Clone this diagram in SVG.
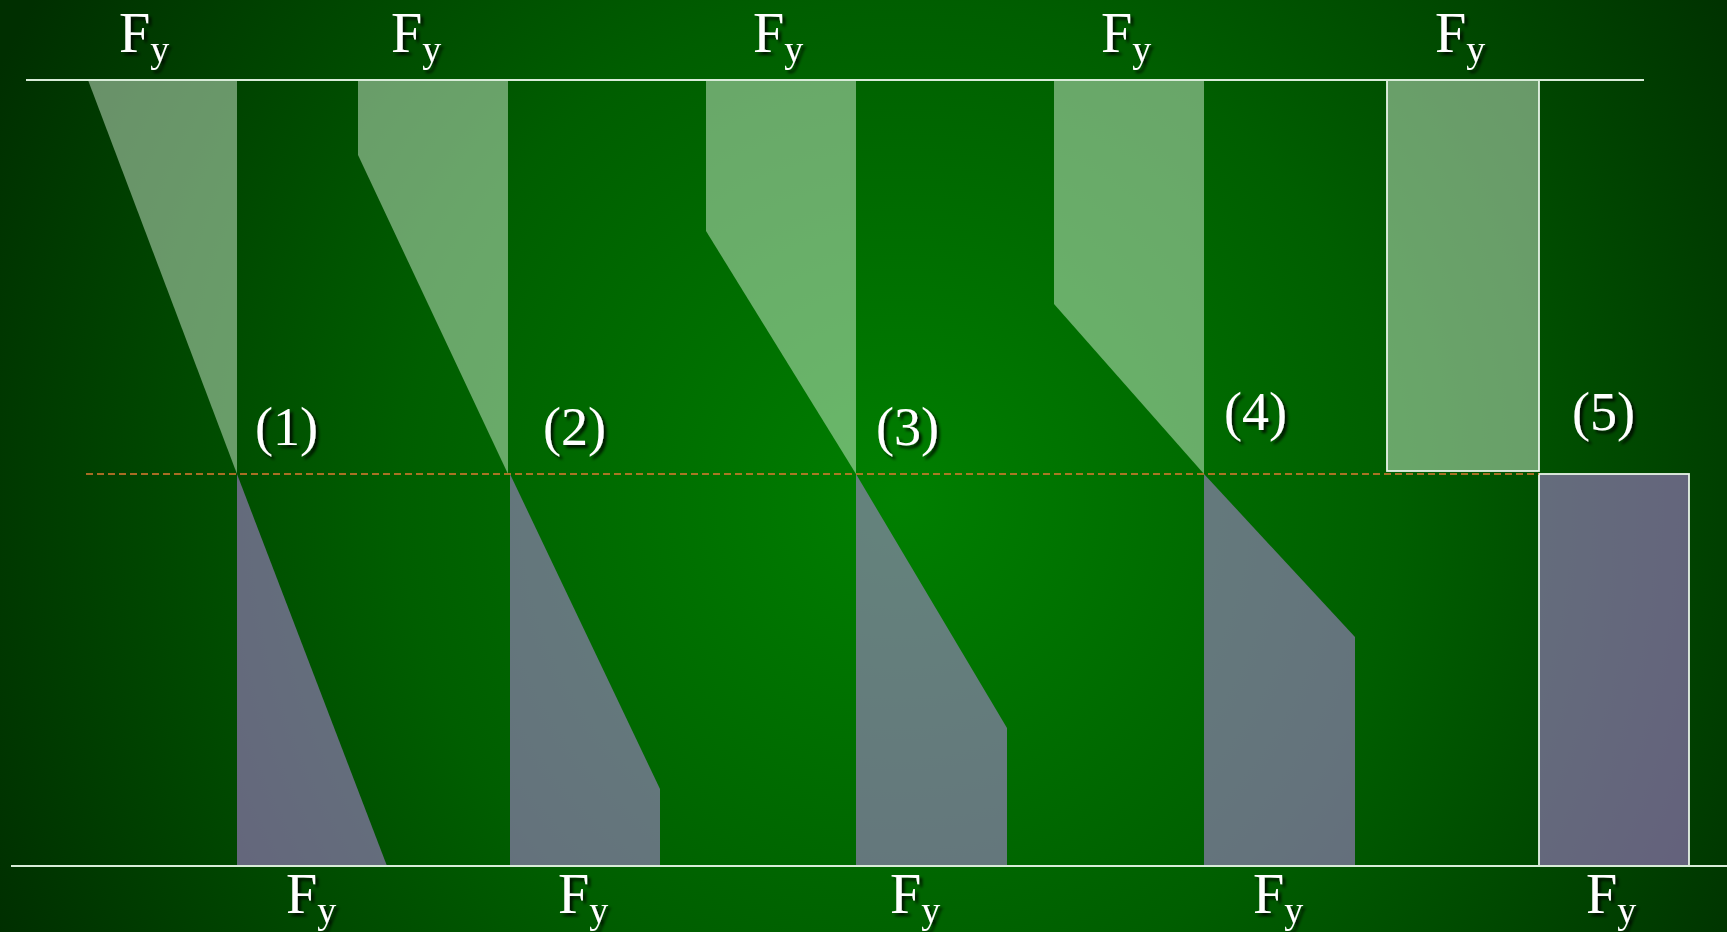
<svg xmlns="http://www.w3.org/2000/svg" width="1727" height="932" viewBox="0 0 1727 932">
<defs>
<radialGradient id="bg" gradientUnits="userSpaceOnUse" cx="900" cy="500" r="1000">
<stop offset="0" stop-color="#007f00"/>
<stop offset="0.5" stop-color="#005e00"/>
<stop offset="1" stop-color="#002f00"/>
</radialGradient>
<filter id="sh" x="-20%" y="-20%" width="140%" height="140%">
<feDropShadow dx="3" dy="3" stdDeviation="1.5" flood-color="#000" flood-opacity="0.8"/>
</filter>
</defs>
<style>
.up{fill:#e8ffe8;fill-opacity:0.45}
.dn{fill:#c888f8;fill-opacity:0.5}
.box{stroke:#e8f4e8;stroke-width:1.8}
.t{font-family:"Liberation Serif","Times New Roman",serif;fill:#ffffff;filter:url(#sh)}
.big{font-size:56px}
.sub{font-size:38px}
.num{font-size:54px}
.axis{stroke:#d8ecd8;stroke-width:2;fill:none}
.dash{stroke:#e07a30;stroke-width:1.6;stroke-dasharray:7 4;fill:none}
</style>
<rect x="0" y="0" width="1727" height="932" fill="url(#bg)"/>

<g id="block1">
<polygon class="up" points="88,80 237,80 237,474"/>
<polygon class="dn" points="237,474 237,866 387,866"/>
</g>
<g id="block2">
<polygon class="up" points="358,80 508,80 508,474 358,155"/>
<polygon class="dn" points="510,474 660,789 660,866 510,866"/>
</g>
<g id="block3">
<polygon class="up" points="706,80 856,80 856,474 706,231"/>
<polygon class="dn" points="856,474 1007,728 1007,866 856,866"/>
</g>
<g id="block4">
<polygon class="up" points="1054,80 1204,80 1204,474 1054,304"/>
<polygon class="dn" points="1204,474 1355,637 1355,866 1204,866"/>
</g>
<g id="block5">
<rect class="up box" x="1387" y="80" width="152" height="391"/>
<rect class="dn box" x="1539" y="474" width="150" height="392"/>
</g>

<g id="connectors">
<line class="axis" x1="26" y1="80" x2="1644" y2="80"/>
<line class="axis" x1="11" y1="866" x2="1727" y2="866"/>
<line class="dash" x1="86" y1="474" x2="1539" y2="474"/>
</g>

<g id="labels-top">
<text class="t" x="119" y="52"><tspan class="big">F</tspan><tspan class="sub" dy="10">y</tspan></text>
<text class="t" x="391" y="52"><tspan class="big">F</tspan><tspan class="sub" dy="10">y</tspan></text>
<text class="t" x="753" y="52"><tspan class="big">F</tspan><tspan class="sub" dy="10">y</tspan></text>
<text class="t" x="1101" y="52"><tspan class="big">F</tspan><tspan class="sub" dy="10">y</tspan></text>
<text class="t" x="1435" y="52"><tspan class="big">F</tspan><tspan class="sub" dy="10">y</tspan></text>
</g>
<g id="labels-bottom">
<text class="t" x="286" y="913"><tspan class="big">F</tspan><tspan class="sub" dy="10">y</tspan></text>
<text class="t" x="558" y="913"><tspan class="big">F</tspan><tspan class="sub" dy="10">y</tspan></text>
<text class="t" x="890" y="913"><tspan class="big">F</tspan><tspan class="sub" dy="10">y</tspan></text>
<text class="t" x="1253" y="913"><tspan class="big">F</tspan><tspan class="sub" dy="10">y</tspan></text>
<text class="t" x="1586" y="913"><tspan class="big">F</tspan><tspan class="sub" dy="10">y</tspan></text>
</g>
<g id="labels-cases">
<text class="t num" x="255" y="445">(1)</text>
<text class="t num" x="543" y="445">(2)</text>
<text class="t num" x="876" y="445">(3)</text>
<text class="t num" x="1224" y="430">(4)</text>
<text class="t num" x="1572" y="430">(5)</text>
</g>
</svg>
